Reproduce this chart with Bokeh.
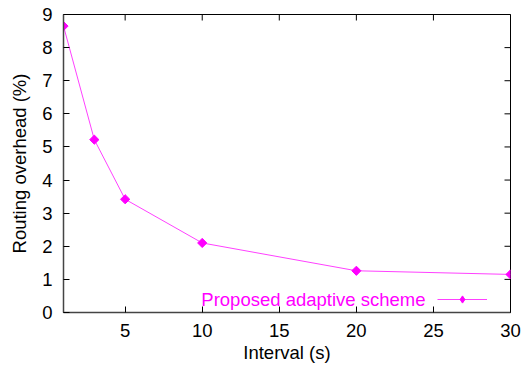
from bokeh.plotting import figure
from bokeh.models import Range1d, FixedTicker, Legend, LegendItem, Label
from bokeh.embed import file_html
from bokeh.resources import INLINE
import math

# Data
interval_s = [1, 3, 5, 10, 20, 30]
overhead_pct = [8.65, 5.22, 3.42, 2.10, 1.26, 1.15]
x_ticks = [5, 10, 15, 20, 25, 30]
y_ticks = [0, 1, 2, 3, 4, 5, 6, 7, 8, 9]
series_name = "Proposed adaptive scheme"

FONT = "Liberation Sans"
FS = "18.5px"
MAG = "#ff00ff"

p = figure(width=528, height=369, output_backend="svg", toolbar_location=None,
           x_range=Range1d(1, 30), y_range=Range1d(0, 9),
           min_border_left=63, min_border_right=18, min_border_top=14, min_border_bottom=57,
           x_axis_label="Interval (s)", y_axis_label="Routing overhead (%)")
p.grid.visible = False
p.outline_line_color = "black"
p.outline_line_width = 1
p.background_fill_color = "white"
p.border_fill_color = "white"

def style_axis(ax, ticks):
    ax.ticker = FixedTicker(ticks=ticks)
    ax.minor_tick_line_color = None
    ax.major_tick_in = 6
    ax.major_tick_out = 0
    ax.major_tick_line_color = "black"
    ax.axis_line_color = "#444444"
    ax.axis_line_width = 1.5
    ax.major_label_text_font = FONT
    ax.major_label_text_font_size = FS
    ax.major_label_text_color = "black"
    ax.axis_label_text_font = FONT
    ax.axis_label_text_font_style = "normal"
    ax.axis_label_text_font_size = FS
    ax.axis_label_text_color = "black"

xa = p.xaxis[0]
style_axis(xa, x_ticks)
xa.major_label_standoff = 11
xa.axis_label_standoff = 2

ya = p.yaxis[0]
style_axis(ya, y_ticks)
ya.major_label_standoff = 11
ya.axis_label_standoff = 9

# mirrored inward ticks on the top and right borders (half of each dash is clipped by the frame)
x_top = [y_ticks[-1]] * len(x_ticks)
y_right = [x_ticks[-1]] * len(y_ticks)
p.scatter(x_ticks, x_top, marker="dash", angle=math.pi / 2, size=12, line_color="black", line_width=1)
p.scatter(y_right, y_ticks, marker="dash", size=12, line_color="black", line_width=1)

ln = p.line(interval_s, overhead_pct, line_color=MAG, line_width=1, line_alpha=0.75)
sc = p.scatter(interval_s, overhead_pct, marker="square", angle=math.pi / 4, size=6.5,
               fill_color=MAG, line_color=MAG)
# legend-only diamond glyph (a single undrawable NaN point)
nan = float("nan")
sc_key = p.scatter([nan], [nan], marker="diamond", size=12, fill_color=MAG, line_color=MAG)

legend = Legend(items=[LegendItem(label=" ", renderers=[ln, sc_key])],
                location=(374, 4), glyph_width=50, glyph_height=18,
                label_width=0, label_standoff=0, padding=0, margin=0, spacing=0,
                border_line_alpha=0, background_fill_alpha=0,
                label_text_font_size="1px")
p.add_layout(legend, "center")

lbl = Label(x=362, y=13, x_units="screen", y_units="screen", text=series_name,
            text_align="right", text_baseline="middle", text_color=MAG,
            text_font=FONT, text_font_size=FS)
p.add_layout(lbl)

open("out.html", "w").write(file_html(p, INLINE))
